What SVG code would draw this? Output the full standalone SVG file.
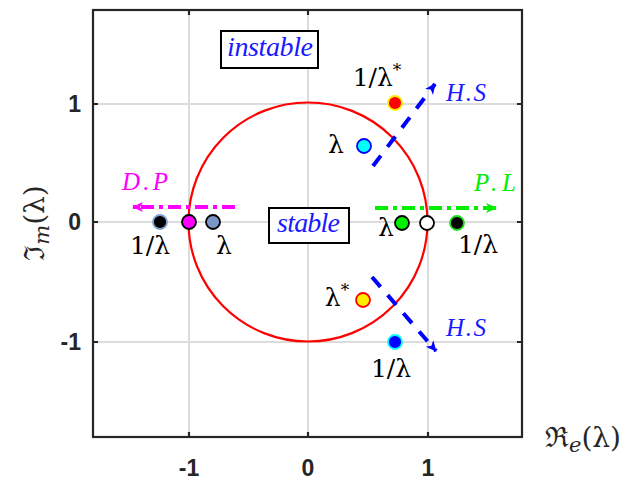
<svg xmlns="http://www.w3.org/2000/svg" width="628" height="483" viewBox="0 0 628 483">
<style>
.grid{stroke:#dcdcdc;stroke-width:2;fill:none}
.frame{stroke:#262626;stroke-width:2.2;fill:none}
.tick{stroke:#262626;stroke-width:2.2}
.tl{font-family:"Liberation Sans",Arial,sans-serif;font-weight:bold;font-size:23px;fill:#262626}
.lab{font-family:"DejaVu Serif","Liberation Serif",serif;font-size:25px;fill:#000}
.ax{font-family:"DejaVu Serif","Liberation Serif",serif;font-size:28px;fill:#262626}
.it{font-family:"Liberation Serif","DejaVu Serif",serif;font-style:italic;font-size:25px}
.big{font-size:28px}
.box{fill:#fff;stroke:#000;stroke-width:2}
.dot{stroke-width:1.8}
</style>
<defs>
<marker id="ahB" markerWidth="12" markerHeight="12" refX="10" refY="6" orient="auto" markerUnits="userSpaceOnUse"><path d="M0,1 L11,6 L0,11 L3,6 Z" fill="#0000ff"/></marker>
<marker id="ahM" markerWidth="12" markerHeight="12" refX="10" refY="6" orient="auto" markerUnits="userSpaceOnUse"><path d="M0,1 L11,6 L0,11 L3,6 Z" fill="#ff00ff"/></marker>
<marker id="ahG" markerWidth="12" markerHeight="12" refX="10" refY="6" orient="auto" markerUnits="userSpaceOnUse"><path d="M0,1 L11,6 L0,11 L3,6 Z" fill="#00ee00"/></marker>
</defs>
<rect width="628" height="483" fill="#fff"/>
<g id="axes">
<rect x="93" y="10" width="429" height="427" fill="#fff"/>
<path class="grid" d="M189,10V437M308,10V437M428,10V437M93,104H522M93,222H522M93,342H522"/>
<rect class="frame" x="93" y="10" width="429" height="427"/>
<path class="tick" d="M189,437v-5M308,437v-5M428,437v-5M189,10v5M308,10v5M428,10v5M93,104h5M93,222h5M93,342h5M522,104h-5M522,222h-5M522,342h-5"/>
<text class="tl" x="189" y="476" text-anchor="middle">-1</text>
<text class="tl" x="308" y="476" text-anchor="middle">0</text>
<text class="tl" x="428" y="476" text-anchor="middle">1</text>
<text class="tl" x="81" y="112" text-anchor="end">1</text>
<text class="tl" x="81" y="230" text-anchor="end">0</text>
<text class="tl" x="81" y="350" text-anchor="end">-1</text>
<text class="ax" x="545" y="447">ℜ<tspan font-style="italic" font-size="21" dy="5">e</tspan><tspan dy="-5">(λ)</tspan></text>
<text class="ax" transform="translate(44,223) rotate(-90)" text-anchor="middle">ℑ<tspan font-style="italic" font-size="21" dy="5">m</tspan><tspan dy="-5">(λ)</tspan></text>
</g>
<g id="circle"><circle cx="308" cy="222" r="119.5" fill="none" stroke="#ff0000" stroke-width="2.2"/></g>
<g id="connectors">
<line x1="235" y1="207" x2="133" y2="207" stroke="#ff00ff" stroke-width="4" stroke-dasharray="13,5,4,5" marker-end="url(#ahM)"/>
<line x1="375" y1="208" x2="496" y2="208" stroke="#00ee00" stroke-width="4" stroke-dasharray="13,5,4,5" marker-end="url(#ahG)"/>
<line x1="373" y1="166" x2="435" y2="84" stroke="#0000ff" stroke-width="4" stroke-dasharray="13,11" marker-end="url(#ahB)"/>
<line x1="372" y1="277" x2="436" y2="351" stroke="#0000ff" stroke-width="4" stroke-dasharray="13,11" marker-end="url(#ahB)"/>
</g>
<g id="instable"><rect class="box" x="221" y="31" width="97" height="37"/><text class="it big" x="227" y="56" fill="#1a1aff" textLength="86" lengthAdjust="spacing">instable</text></g>
<g id="stable"><rect class="box" x="269" y="208" width="80" height="35"/><text class="it big" x="277" y="232" fill="#1a1aff" textLength="63" lengthAdjust="spacing">stable</text></g>
<g id="dp"><text class="it" x="122" y="190" fill="#ff00ff" textLength="46">D.P</text></g>
<g id="pl"><text class="it" x="474" y="191" fill="#00ee00" textLength="42">P.L</text></g>
<g id="hs1"><text class="it" x="446" y="101" fill="#1a1aff" textLength="40">H.S</text></g>
<g id="hs2"><text class="it" x="446" y="336" fill="#1a1aff" textLength="40">H.S</text></g>
<g id="left-points">
<circle class="dot" cx="160" cy="222" r="7" fill="#000" stroke="#7f9fd0"/>
<circle class="dot" cx="189" cy="222" r="7" fill="#ff00ff" stroke="#000"/>
<circle class="dot" cx="213" cy="222" r="7" fill="#7b96c8" stroke="#000"/>
<text class="lab" x="150" y="254" text-anchor="middle">1/λ</text>
<text class="lab" x="224" y="254" text-anchor="middle">λ</text>
</g>
<g id="right-points">
<circle class="dot" cx="402" cy="223" r="7" fill="#00ee00" stroke="#000"/>
<circle class="dot" cx="427" cy="223" r="7" fill="#fff" stroke="#000"/>
<circle class="dot" cx="457" cy="223" r="7" fill="#000" stroke="#22dd22"/>
<text class="lab" x="386" y="236" text-anchor="middle">λ</text>
<text class="lab" x="478" y="253" text-anchor="middle">1/λ</text>
</g>
<g id="upper-points">
<circle class="dot" cx="395" cy="103" r="7" fill="#ff0000" stroke="#ffee00"/>
<circle class="dot" cx="364" cy="146" r="7" fill="#00ffff" stroke="#0000ff"/>
<text class="lab" x="377" y="86" text-anchor="middle">1/λ<tspan font-size="17" dy="-10">*</tspan></text>
<text class="lab" x="336" y="153" text-anchor="middle">λ</text>
</g>
<g id="lower-points">
<circle class="dot" cx="363" cy="300" r="7" fill="#ffee00" stroke="#ff0000"/>
<circle class="dot" cx="395" cy="342" r="7" fill="#0000ff" stroke="#00ffff"/>
<text class="lab" x="337" y="306" text-anchor="middle">λ<tspan font-size="17" dy="-10">*</tspan></text>
<text class="lab" x="391" y="377" text-anchor="middle">1/λ</text>
</g>
</svg>
